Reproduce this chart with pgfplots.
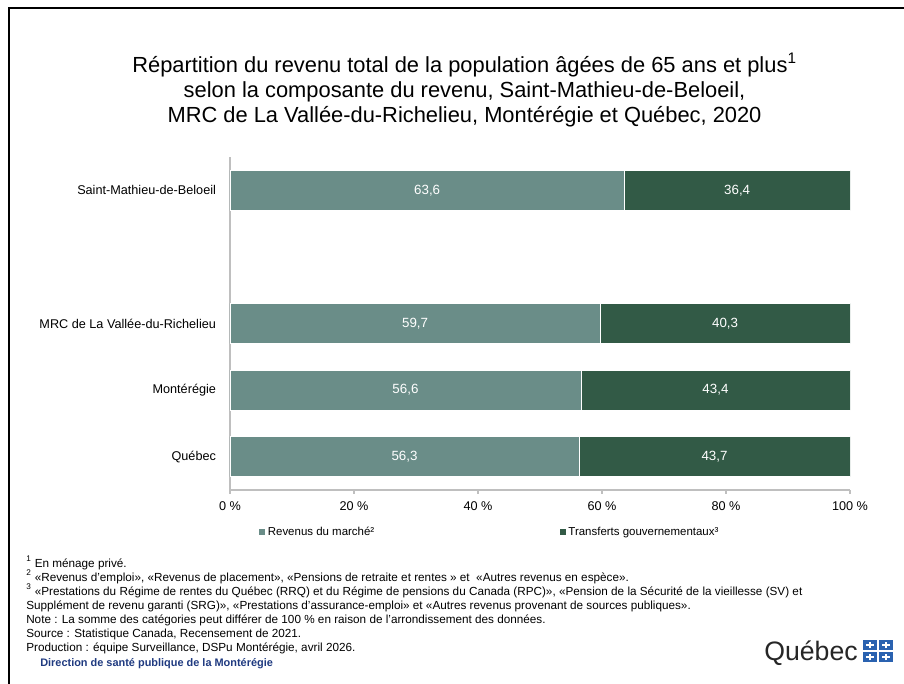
\documentclass[border=0pt]{standalone}
\usepackage{pgfplots}
\pgfplotsset{compat=1.18}
\usepackage{fontspec}
\setmainfont{Liberation Sans}
\definecolor{lightc}{HTML}{6A8D88}
\definecolor{darkc}{HTML}{325A46}
\definecolor{axgray}{HTML}{BFBFBF}
\definecolor{dspblue}{HTML}{1F3A80}
\definecolor{qcblue}{HTML}{2A62B0}
\begin{document}
\begin{tikzpicture}
\path[use as bounding box] (0,0) rectangle (678pt,513pt);
\draw[line width=2.2pt] (6.75pt,-3pt) -- (6.75pt,507pt) -- (682pt,507pt);
% title
\node[align=center, font=\fontsize{16.4}{18.75}\selectfont] at (348.4pt,445.5pt)
 {Répartition du revenu total de la population âgées de 65 ans et plus\textsuperscript{1}\\
  selon la composante du revenu, Saint-Mathieu-de-Beloeil,\\
  MRC de La Vallée-du-Richelieu, Montérégie et Québec, 2020};
\begin{axis}[
 at={(172.5pt,145.5pt)}, anchor=south west,
 width=465pt, height=249.75pt, scale only axis,
 xbar stacked, bar width=30pt,
 xmin=0, xmax=100, ymin=-0.5, ymax=4.5,
 ytick={0,1,2,4},
 yticklabels={Québec,Montérégie,MRC de La Vallée-du-Richelieu,Saint-Mathieu-de-Beloeil},
 xtick={0,20,40,60,80,100},
 xticklabel={\pgfmathprintnumber{\tick}~\%},
 /pgf/number format/assume math mode=true,
 axis x line*=bottom, axis y line*=left,
 axis line style={axgray, line width=0.8pt},
 xtick style={axgray, line width=0.8pt},
 ytick style={draw=none},
 tick align=outside, major tick length=3pt,
 xticklabel style={font=\fontsize{9.5}{11}\selectfont, yshift=-2pt},
 yticklabel style={font=\fontsize{9.5}{11}\selectfont, xshift=-4pt},
 legend columns=2,
 legend style={draw=none, at={(0.04,-0.126)}, anchor=west,
   font=\fontsize{8.6}{10}\selectfont,
   /tikz/every even column/.append style={column sep=137pt}},
 legend image code/.code={\fill[#1,draw=none] (0pt,-2.3pt) rectangle (4.6pt,2.3pt);},
]
\addplot[fill=lightc, draw=white, line width=0.3pt] coordinates {(56.3,0) (56.6,1) (59.7,2) (63.6,4)};
\addplot[fill=darkc, draw=white, line width=0.3pt] coordinates {(43.7,0) (43.4,1) (40.3,2) (36.4,4)};
\legend{Revenus du marché², Transferts gouvernementaux³}
\end{axis}
\begin{axis}[
 at={(172.5pt,145.5pt)}, anchor=south west,
 width=465pt, height=249.75pt, scale only axis,
 xmin=0, xmax=100, ymin=-0.5, ymax=4.5, hide axis,
 point meta=explicit symbolic,
 every node near coord/.append style={anchor=center, text=white, font=\fontsize{10}{12}\selectfont},
]
\addplot[draw=none, mark=none, nodes near coords] coordinates {
 (28.15,0)[56{,}3] (28.3,1)[56{,}6] (29.85,2)[59{,}7] (31.8,4)[63{,}6]
 (78.15,0)[43{,}7] (78.3,1)[43{,}4] (79.85,2)[40{,}3] (81.8,4)[36{,}4]};
\end{axis}
% footnotes
\node[anchor=north west, align=left, inner sep=0pt, font=\fontsize{8.8}{10.5}\selectfont] at (19.5pt,96pt)
 {\textsuperscript{1} En ménage privé.\\
  \textsuperscript{2} «Revenus d'emploi», «Revenus de placement», «Pensions de retraite et rentes » et \ «Autres revenus en espèce».\\
  \textsuperscript{3} «Prestations du Régime de rentes du Québec (RRQ) et du Régime de pensions du Canada (RPC)», «Pension de la Sécurité de la vieillesse (SV) et\\
  Supplément de revenu garanti (SRG)», «Prestations d'assurance-emploi» et «Autres revenus provenant de sources publiques».\\
  Note : La somme des catégories peut différer de 100 \% en raison de l'arrondissement des données.\\
  Source : Statistique Canada, Recensement de 2021.\\
  Production : équipe Surveillance, DSPu Montérégie, avril 2026.};
\node[anchor=west, inner sep=0pt, text=dspblue, font=\bfseries\fontsize{8.2}{9}\selectfont] at (30pt,15.5pt)
 {Direction de santé publique de la Montérégie};
% logo
\node[anchor=east, inner sep=0pt, text=black!85, font=\fontsize{20}{22}\selectfont] at (643.5pt,23pt) {Québec};
\foreach \xx in {647,659}{
 \foreach \yy in {16.5,25.5}{
  \fill[qcblue] (\xx pt,\yy pt) rectangle ++(11pt,7.5pt);
  \draw[white, line width=0.8pt] (\xx pt+5.5pt,\yy pt+1.2pt) -- ++(0,5.1pt);
  \draw[white, line width=0.8pt] (\xx pt+2.5pt,\yy pt+3.75pt) -- ++(6pt,0);
 }}
\end{tikzpicture}
\end{document}
